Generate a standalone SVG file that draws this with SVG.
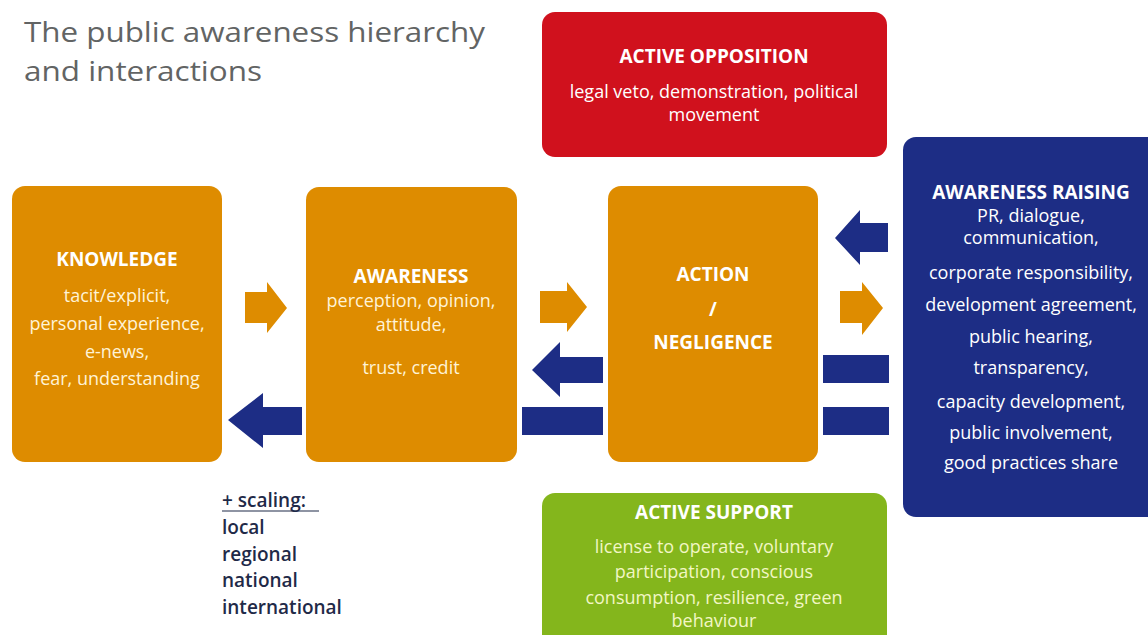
<svg xmlns="http://www.w3.org/2000/svg" width="1148" height="635" viewBox="0 0 1148 635">
<style>
.title{font-family:"Open Sans","Liberation Sans",sans-serif;font-size:28px;fill:#626464}
.h{font-family:"Open Sans","Liberation Sans",sans-serif;font-weight:bold;font-size:19px;fill:#ffffff;text-anchor:middle}
.b{font-family:"Open Sans","Liberation Sans",sans-serif;font-size:18px;text-anchor:middle}
.ob{fill:#fff3d6}
.wb{fill:#ffffff}
.gb{fill:#f2f6c4}
.sc{font-family:"Open Sans","Liberation Sans",sans-serif;font-weight:600;font-size:19px;fill:#1f2a48}
.orange{fill:#de8c00}
.navy{fill:#1d2d85}
</style>
<rect width="1148" height="635" fill="#ffffff"/>
<g id="title">
<text class="title" x="24" y="42" textLength="461" lengthAdjust="spacingAndGlyphs">The public awareness hierarchy</text>
<text class="title" x="24" y="81" textLength="238" lengthAdjust="spacingAndGlyphs">and interactions</text>
</g>
<g id="active-opposition">
<rect x="542" y="12" width="345" height="145" rx="13" fill="#d0111d"/>
<text class="h" x="714" y="63">ACTIVE OPPOSITION</text>
<text class="b wb" x="714" y="98">legal veto, demonstration, political</text>
<text class="b wb" x="714" y="121">movement</text>
</g>
<g id="knowledge">
<rect x="12" y="186" width="210" height="276" rx="13" class="orange"/>
<text class="h" x="117" y="266">KNOWLEDGE</text>
<text class="b ob" x="117" y="302">tacit/explicit,</text>
<text class="b ob" x="117" y="330">personal experience,</text>
<text class="b ob" x="117" y="358">e-news,</text>
<text class="b ob" x="117" y="385">fear, understanding</text>
</g>
<g id="awareness">
<rect x="306" y="187" width="211" height="275" rx="13" class="orange"/>
<text class="h" x="411" y="283">AWARENESS</text>
<text class="b ob" x="411" y="307">perception, opinion,</text>
<text class="b ob" x="411" y="331">attitude,</text>
<text class="b ob" x="411" y="374">trust, credit</text>
</g>
<g id="action">
<rect x="608" y="186" width="210" height="276" rx="13" class="orange"/>
<text class="h" x="713" y="281">ACTION</text>
<text class="h" x="713" y="316">/</text>
<text class="h" x="713" y="349">NEGLIGENCE</text>
</g>
<g id="awareness-raising">
<rect x="903" y="137" width="260" height="380" rx="13" class="navy"/>
<text class="h" x="1031" y="199">AWARENESS RAISING</text>
<text class="b wb" x="1031" y="222">PR, dialogue,</text>
<text class="b wb" x="1031" y="244">communication,</text>
<text class="b wb" x="1031" y="279">corporate responsibility,</text>
<text class="b wb" x="1031" y="311">development agreement,</text>
<text class="b wb" x="1031" y="343">public hearing,</text>
<text class="b wb" x="1031" y="374">transparency,</text>
<text class="b wb" x="1031" y="408">capacity development,</text>
<text class="b wb" x="1031" y="439">public involvement,</text>
<text class="b wb" x="1031" y="469">good practices share</text>
</g>
<g id="active-support">
<rect x="542" y="493" width="345" height="160" rx="13" fill="#84b61c"/>
<text class="h" x="714" y="519">ACTIVE SUPPORT</text>
<text class="b gb" x="714" y="553">license to operate, voluntary</text>
<text class="b gb" x="714" y="578">participation, conscious</text>
<text class="b gb" x="714" y="604">consumption, resilience, green</text>
<text class="b gb" x="714" y="627">behaviour</text>
</g>
<g id="scaling">
<text class="sc" x="222" y="507">+ scaling:</text>
<line x1="222" y1="511" x2="319" y2="511" stroke="#1f2a48" stroke-width="1.2"/>
<text class="sc" x="222" y="534">local</text>
<text class="sc" x="222" y="561">regional</text>
<text class="sc" x="222" y="587">national</text>
<text class="sc" x="222" y="614">international</text>
</g>
<g id="connectors">
<polygon class="orange" points="245,292 267,292 267,282 287,308 267,333 267,323 245,323"/>
<polygon class="orange" points="540,291 567,291 567,282 587,307 567,332 567,323 540,323"/>
<polygon class="orange" points="840,291 862,291 862,282 883,308 862,335 862,323 840,323"/>
<polygon class="navy" points="302,407 263,407 263,393 228,420 263,448 263,435 302,435"/>
<polygon class="navy" points="603,357 560,357 560,342 532,370 560,397 560,383 603,383"/>
<rect class="navy" x="522" y="407" width="81" height="28"/>
<polygon class="navy" points="888,223 860,223 860,210 835,238 860,265 860,252 888,252"/>
<rect class="navy" x="823" y="355" width="66" height="28"/>
<rect class="navy" x="823" y="407" width="66" height="28"/>
</g>
</svg>
